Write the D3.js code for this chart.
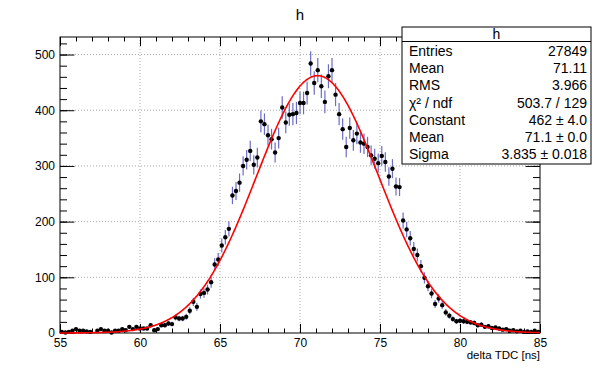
<!DOCTYPE html>
<html><head><meta charset="utf-8">
<script src="https://cdn.jsdelivr.net/npm/d3@7"></script>
<style>body{margin:0;background:#fff} text{font-family:"Liberation Sans",Arial,Helvetica,sans-serif}</style>
</head><body><svg id="c" width="600" height="371"></svg>
<script>
// ---- data ----
const histTitle = "h";
const xAxisTitle = "delta TDC [ns]";
const xLow = 55, xHigh = 85;
const nBins = 135;
const counts = [
  2,1,2,4,7,4,4,3,2,0,
  4,7,4,4,1,4,4,7,5,11,
  7,11,8,8,8,14,5,7,14,14,
  17,16,28,26,26,29,40,56,47,70,
  72,78,91,123,132,157,172,187,247,255,
  270,300,311,327,302,315,380,375,355,348,
  324,350,405,378,392,393,395,413,413,431,
  484,449,472,443,415,461,472,428,393,366,
  334,368,346,358,342,340,334,319,313,305,
  318,307,281,295,263,262,202,186,170,151,
  140,120,99,84,71,52,62,50,37,31,
  25,21,22,21,20,19,18,14,15,11,
  12,9,10,8,6,7,4,5,3,4,
  2,3,2,4,2
];
const xTicks = [55,60,65,70,75,80,85];
const yTicks = [0,100,200,300,400,500];
const yMax = 531.5;
const fitConstant = 462, fitMean = 71.1, fitSigma = 3.835;
const statsLabels = ["Entries","Mean","RMS","\u03C7\u00B2 / ndf","Constant","Mean","Sigma"];
const statsValues = ["27849","71.11","3.966","503.7 / 129","462 \u00B1 4.0","71.1 \u00B1 0.0","3.835 \u00B1 0.018"];

// ---- layout ----
const L = 60, R = 540, T = 37, B = 333;
const svg = d3.select("#c");
const x = d3.scaleLinear().domain([xLow, xHigh]).range([L, R]);
const y = d3.scaleLinear().domain([0, yMax]).range([B, T]);
const binW = (xHigh - xLow) / nBins;

// grid
const g = svg.append("g");
g.selectAll(".gx").data(xTicks.filter(v => v > xLow && v < xHigh)).enter().append("line")
  .attr("x1", d => x(d)).attr("x2", d => x(d)).attr("y1", T).attr("y2", B)
  .attr("stroke", "#aaa").attr("stroke-width", 1).attr("stroke-dasharray", "1,2");
g.selectAll(".gy").data(yTicks.filter(v => v > 0)).enter().append("line")
  .attr("x1", L).attr("x2", R).attr("y1", d => y(d)).attr("y2", d => y(d))
  .attr("stroke", "#aaa").attr("stroke-width", 1).attr("stroke-dasharray", "1,2");

// axes (ticks inside)
const xMinor = d3.range(xLow, xHigh + 0.001, 1);
const yMinor = d3.range(0, yMax, 20);
function styleAxis(sel) {
  sel.select(".domain").remove();
  sel.selectAll("line").attr("stroke", "#000");
  sel.selectAll("text").attr("fill", "#000").style("font-size", "12px");
}
svg.append("g").attr("transform", `translate(0,${B})`)
  .call(d3.axisBottom(x).tickValues(xMinor).tickSize(-4.5).tickFormat("")).call(styleAxis);
svg.append("g").attr("transform", `translate(0,${B})`)
  .call(d3.axisBottom(x).tickValues(xTicks).tickSize(-9).tickPadding(14).tickFormat(d3.format("d"))).call(styleAxis)
  .selectAll("text").attr("dy", "0");
svg.append("g").attr("transform", `translate(0,${T})`)
  .call(d3.axisTop(x).tickValues(xMinor).tickSize(-4.5).tickFormat("")).call(styleAxis);
svg.append("g").attr("transform", `translate(0,${T})`)
  .call(d3.axisTop(x).tickValues(xTicks).tickSize(-9).tickFormat("")).call(styleAxis);
svg.append("g").attr("transform", `translate(${L},0)`)
  .call(d3.axisLeft(y).tickValues(yMinor).tickSize(-7).tickFormat("")).call(styleAxis);
svg.append("g").attr("transform", `translate(${L},0)`)
  .call(d3.axisLeft(y).tickValues(yTicks).tickSize(-14.4).tickPadding(5).tickFormat(d3.format("d"))).call(styleAxis);
svg.append("g").attr("transform", `translate(${R},0)`)
  .call(d3.axisRight(y).tickValues(yMinor).tickSize(-7).tickFormat("")).call(styleAxis);
svg.append("g").attr("transform", `translate(${R},0)`)
  .call(d3.axisRight(y).tickValues(yTicks).tickSize(-14.4).tickFormat("")).call(styleAxis);

// frame
svg.append("rect").attr("x", L).attr("y", T).attr("width", R - L).attr("height", B - T)
  .attr("fill", "none").attr("stroke", "#000").attr("stroke-width", 1);

// data points
const pts = counts.map((c, i) => ({ xc: xLow + (i + 0.5) * binW, c }));
const dp = svg.append("g");
dp.selectAll(".eb").data(pts.filter(p => p.c > 0)).enter().append("line")
  .attr("x1", p => x(p.xc)).attr("x2", p => x(p.xc))
  .attr("y1", p => y(p.c - Math.sqrt(p.c))).attr("y2", p => y(Math.min(yMax, p.c + Math.sqrt(p.c))))
  .attr("stroke", "#6b6bc8").attr("stroke-width", 1.2);

// fit curve
const fx = d3.range(0, 601).map(k => xLow + (xHigh - xLow) * k / 600);
const fit = fx.map(v => [v, fitConstant * Math.exp(-0.5 * Math.pow((v - fitMean) / fitSigma, 2))]);
svg.append("path").datum(fit)
  .attr("d", d3.line().x(d => x(d[0])).y(d => y(d[1])))
  .attr("fill", "none").attr("stroke", "#ff0000").attr("stroke-width", 1.6);

dp.selectAll(".pt").data(pts.filter(p => p.c > 0)).enter().append("circle")
  .attr("cx", p => x(p.xc)).attr("cy", p => y(p.c)).attr("r", 2.2).attr("fill", "#000");

// titles
svg.append("text").attr("x", 300).attr("y", 20).attr("text-anchor", "middle")
  .style("font-size", "15px").text(histTitle);
svg.append("text").attr("x", R).attr("y", 359).attr("text-anchor", "end")
  .style("font-size", "11.5px").text(xAxisTitle);

// stats box
const bx = 402, by = 27, bw = 189, bh = 137;
svg.append("rect").attr("x", bx).attr("y", by).attr("width", bw).attr("height", bh)
  .attr("fill", "#fff").attr("stroke", "#000").attr("stroke-width", 1);
svg.append("line").attr("x1", bx).attr("x2", bx + bw).attr("y1", 41.5).attr("y2", 41.5)
  .attr("stroke", "#000").attr("stroke-width", 1);
svg.append("text").attr("x", bx + bw / 2).attr("y", 39).attr("text-anchor", "middle")
  .style("font-size", "14px").text(histTitle);
const rowY = d3.scaleLinear().domain([0, 6]).range([56, 159]);
statsLabels.forEach((lab, i) => {
  svg.append("text").attr("x", 409).attr("y", rowY(i)).style("font-size", "14px").text(lab);
  svg.append("text").attr("x", 587).attr("y", rowY(i)).attr("text-anchor", "end")
    .style("font-size", "14px").text(statsValues[i]);
});
</script></body></html>
